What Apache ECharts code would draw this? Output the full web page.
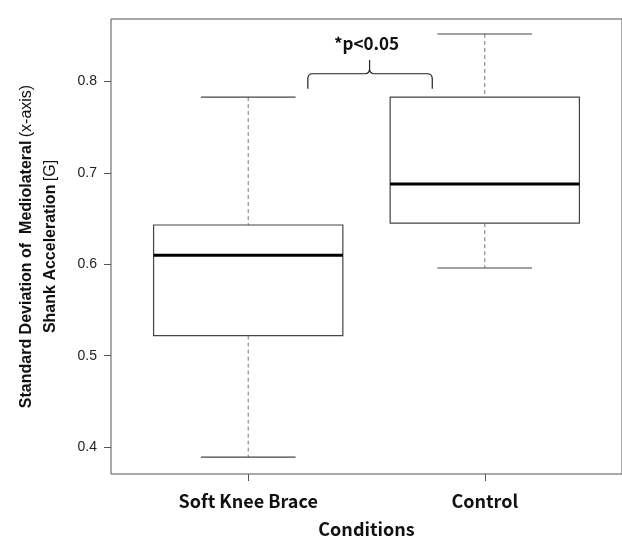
<!DOCTYPE html>
<html>
<head>
<meta charset="utf-8">
<script src="https://cdn.jsdelivr.net/npm/echarts@6/dist/echarts.min.js"></script>
<style>
html, body { margin: 0; padding: 0; background: #fff; }
#chart { width: 622px; height: 543px; }
</style>
</head>
<body>
<div id="chart"></div>
<script>
var categories = ['Soft Knee Brace', 'Control'];
var lowerWhisker = [0.389, 0.596];
var q1 = [0.522, 0.645];
var median = [0.610, 0.688];
var q3 = [0.643, 0.783];
var upperWhisker = [0.783, 0.852];
var yTicks = [0.4, 0.5, 0.6, 0.7, 0.8];
var xTicks = [1, 2];
var sigText = '*p<0.05';

var boxData = categories.map(function (c, i) {
    return [i + 1, lowerWhisker[i], q1[i], median[i], q3[i], upperWhisker[i]];
});

var renderBox = function (params, api) {
    var x = api.value(0);
    var half = api.size([0.8, 0])[0] / 2;
    var cap = half / 2;
    var pLo = api.coord([x, api.value(1)]);
    var pQ1 = api.coord([x, api.value(2)]);
    var pMed = api.coord([x, api.value(3)]);
    var pQ3 = api.coord([x, api.value(4)]);
    var pHi = api.coord([x, api.value(5)]);
    var cx = pMed[0];
    var dash = { stroke: '#777', lineWidth: 1, lineDash: [4, 3] };
    var solid = { stroke: '#444', lineWidth: 1.2 };
    return {
        type: 'group',
        children: [
            { type: 'line', shape: { x1: cx, y1: pHi[1], x2: cx, y2: pQ3[1] }, style: dash },
            { type: 'line', shape: { x1: cx, y1: pQ1[1], x2: cx, y2: pLo[1] }, style: dash },
            { type: 'line', shape: { x1: cx - cap, y1: pHi[1], x2: cx + cap, y2: pHi[1] }, style: solid },
            { type: 'line', shape: { x1: cx - cap, y1: pLo[1], x2: cx + cap, y2: pLo[1] }, style: solid },
            { type: 'rect', shape: { x: cx - half, y: pQ3[1], width: half * 2, height: pQ1[1] - pQ3[1] },
              style: { fill: '#fff', stroke: '#444', lineWidth: 1.2 } },
            { type: 'line', shape: { x1: cx - half, y1: pMed[1], x2: cx + half, y2: pMed[1] },
              style: { stroke: '#000', lineWidth: 3 } }
        ]
    };
};

var renderBrace = function (params, api) {
    var a = api.coord([1.252, 0.792]);
    var b = api.coord([1.778, 0.8085]);
    var t = api.coord([1.513, 0.8235]);
    var x1 = a[0], x2 = b[0], xc = t[0];
    var yB = a[1], yM = b[1], yT = t[1];
    var r = 5;
    var d = 'M' + x1 + ' ' + yB + ' L' + x1 + ' ' + (yM + r) +
        ' Q' + x1 + ' ' + yM + ' ' + (x1 + r) + ' ' + yM +
        ' L' + (xc - r) + ' ' + yM +
        ' Q' + xc + ' ' + yM + ' ' + xc + ' ' + (yM - r) +
        ' L' + xc + ' ' + yT +
        ' M' + xc + ' ' + (yM - r) +
        ' Q' + xc + ' ' + yM + ' ' + (xc + r) + ' ' + yM +
        ' L' + (x2 - r) + ' ' + yM +
        ' Q' + x2 + ' ' + yM + ' ' + x2 + ' ' + (yM + r) +
        ' L' + x2 + ' ' + yB;
    var tp = api.coord([1.50, 0.841]);
    return {
        type: 'group',
        children: [
            { type: 'path', shape: { pathData: d }, style: { fill: null, stroke: '#222', lineWidth: 1.2 } },
            { type: 'text', x: tp[0], y: tp[1],
              style: { text: sigText, fill: '#111', font: 'bold 17px "Noto Sans CJK JP", sans-serif',
                       align: 'center', verticalAlign: 'middle' } }
        ]
    };
};

var dom = document.getElementById('chart');
var myChart = echarts.init(dom);
var option = {
    animation: false,
    backgroundColor: '#fff',
    grid: {
        left: 111,
        top: 19,
        right: -4,
        bottom: 62,
        show: true,
        borderColor: '#555',
        borderWidth: 1,
        backgroundColor: 'transparent'
    },
    xAxis: {
        type: 'value',
        min: 0.42,
        max: 2.58,
        name: 'Conditions',
        nameLocation: 'middle',
        nameGap: 46,
        nameTextStyle: { fontFamily: 'Noto Sans CJK JP', fontWeight: 'bold', fontSize: 18, color: '#111' },
        splitLine: { show: false },
        axisLine: { show: false },
        axisTick: { show: true, customValues: xTicks, length: 7, lineStyle: { color: '#555' } },
        axisLabel: {
            customValues: xTicks,
            margin: 18,
            fontFamily: 'Noto Sans CJK JP',
            fontWeight: 'bold',
            fontSize: 18,
            color: '#111',
            formatter: function (v) { return categories[Math.round(v) - 1] || ''; }
        }
    },
    yAxis: {
        type: 'value',
        min: 0.3706,
        max: 0.8684,
        name: '{b|Standard Deviation of  Mediolateral} {n|(x-axis)}\n{b|Shank Acceleration} {n|[G]}',
        nameLocation: 'middle',
        nameGap: 48,
        nameTextStyle: {
            color: '#111',
            lineHeight: 24,
            rich: {
                b: { fontFamily: 'Liberation Sans', fontWeight: 'bold', fontSize: 16, color: '#111' },
                n: { fontFamily: 'Liberation Sans', fontSize: 16, color: '#111' }
            }
        },
        splitLine: { show: false },
        axisLine: { show: false },
        axisTick: { show: true, customValues: yTicks, length: 7, lineStyle: { color: '#555' } },
        axisLabel: {
            customValues: yTicks,
            margin: 14,
            fontFamily: 'Liberation Sans',
            fontSize: 14,
            color: '#222',
            formatter: function (v) { return v.toFixed(1); }
        }
    },
    series: [
        {
            type: 'custom',
            renderItem: renderBox,
            data: boxData,
            clip: false
        },
        {
            type: 'custom',
            renderItem: renderBrace,
            data: [[1.5, 0.8]],
            clip: false
        }
    ]
};
if (option && typeof option === 'object') {
    myChart.setOption(option, true);
}
</script>
</body>
</html>
